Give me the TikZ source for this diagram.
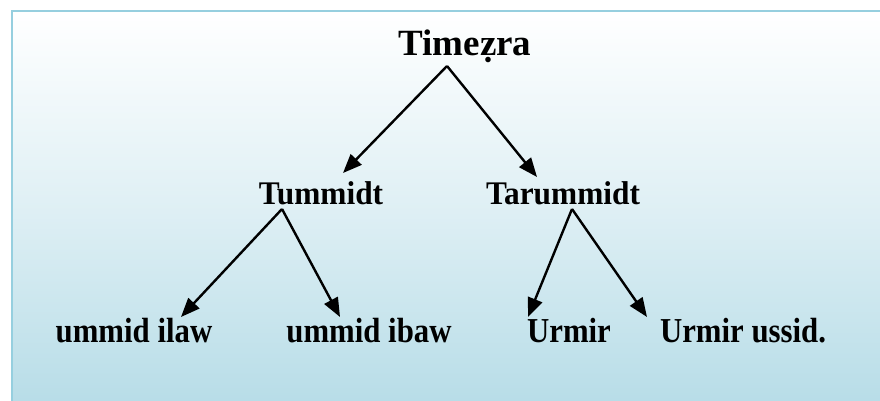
\documentclass[tikz,border=0pt]{standalone}
\usepackage{graphicx}
\usepackage{fontspec}
\setmainfont{Liberation Serif}
\usetikzlibrary{arrows.meta}
\definecolor{frameblue}{HTML}{96CFDF}
\definecolor{bottomblue}{HTML}{B6DCE7}
\newcommand{\narrowtxt}[2]{\scalebox{#1}[1]{#2}}
\tikzset{
  lbl/.style={anchor=base, inner sep=0pt, font=\fontsize{35}{40}\selectfont\bfseries},
  mid/.style={anchor=base, inner sep=0pt, font=\fontsize{33}{38}\selectfont\bfseries},
  ttl/.style={anchor=base, inner sep=0pt, font=\fontsize{37}{42}\selectfont\bfseries},
  arr/.style={line width=2.4pt, -{Triangle[length=19pt,width=15pt]}}
}
\begin{document}
\begin{tikzpicture}[x=1pt,y=-1pt]
\useasboundingbox (0,0) rectangle (880,401);
\begin{scope}
\clip (0,0) rectangle (880,401);
\shade[top color=white, bottom color=bottomblue, middle color=white!55!bottomblue] (12,11) rectangle (890,410);
\draw[frameblue, line width=2.8pt] (12,420) -- (12,11) -- (900,11);
\end{scope}
\node[ttl] (root) at (465,56) {Timeẓra};
\node[mid] (tum) at (321,204) {\narrowtxt{0.95}{Tummidt}};
\node[mid] (tar) at (563,204) {\narrowtxt{0.95}{Tarummidt}};
\node[lbl] (ilaw) at (134,342) {\narrowtxt{0.88}{ummid ilaw}};
\node[lbl] (ibaw) at (369,342) {\narrowtxt{0.88}{ummid ibaw}};
\node[lbl] (urm) at (569,342) {\narrowtxt{0.88}{Urmir}};
\node[lbl] (urmu) at (743,342) {\narrowtxt{0.88}{Urmir ussid.}};
\coordinate (a0) at (447,66);
\coordinate (t1) at (343,173);
\coordinate (t2) at (537,177);
\coordinate (a1) at (282,209);
\coordinate (t3) at (181,317);
\coordinate (t4) at (340,317);
\coordinate (a2) at (572,209);
\coordinate (t5) at (528,317);
\coordinate (t6) at (647,317);
\draw[arr] (a0) -- (t1);
\draw[arr] (a0) -- (t2);
\draw[arr] (a1) -- (t3);
\draw[arr] (a1) -- (t4);
\draw[arr] (a2) -- (t5);
\draw[arr] (a2) -- (t6);
\end{tikzpicture}
\end{document}
